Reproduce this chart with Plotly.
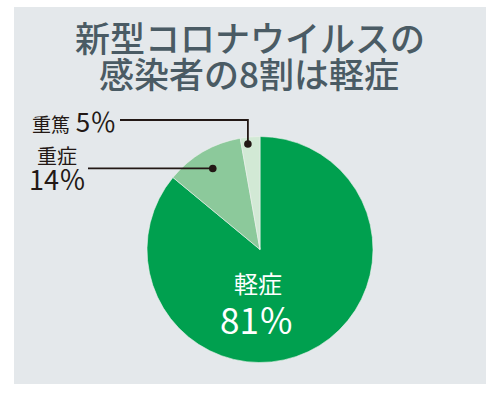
import math
import plotly.graph_objects as go

# ---- data ----
categories = ["軽症", "重症", "重篤"]
shown_percent = [81, 14, 5]            # percentages printed on the chart
slice_share = [86.0, 11.2, 2.8]        # slice sizes as drawn in the picture
slice_colors = ["#00a04f", "#8cc99b", "#d2e9d5"]
title_lines = ["新型コロナウイルスの", "感染者の8割は軽症"]

W, H = 500, 394
FONT = "Noto Sans CJK JP"

def px(x):
    return x / W

def py(y):
    return 1 - y / H

# pie geometry (pixels)
cx, cy, R = 260, 249.5, 113

fig = go.Figure(go.Pie(
    labels=categories,
    values=slice_share,
    sort=False,
    direction="clockwise",
    rotation=0,
    marker=dict(colors=slice_colors, line=dict(color="#eef2ef", width=0.6)),
    textinfo="none",
    hoverinfo="label",
    showlegend=False,
    domain=dict(x=[px(cx - R), px(cx + R)], y=[py(cy + R), py(cy - R)]),
))

shapes = [
    dict(type="rect", xref="paper", yref="paper", layer="below",
         x0=px(14), x1=px(486), y0=py(384), y1=py(7),
         fillcolor="#e4e8eb", line=dict(width=0)),
]

# slice mid-angles (degrees clockwise from 12 o'clock)
total = sum(slice_share)
mids = []
acc = 0
for v in slice_share:
    mids.append((acc + v / 2) / total * 360)
    acc += v

def on_pie(angle_deg, frac):
    a = math.radians(angle_deg)
    return cx + frac * R * math.sin(a), cy - frac * R * math.cos(a)

line_col = "#231815"
# 重篤 leader: horizontal then down to the dot
dx1, dy1 = on_pie(mids[2] - 1.5, 0.94)
shapes.append(dict(type="path", xref="paper", yref="paper", layer="above",
                   path=f"M {px(120)},{py(120)} L {px(dx1)},{py(120)} L {px(dx1)},{py(dy1)}",
                   line=dict(color=line_col, width=1.8)))
# 重症 leader: horizontal to the dot
dx2, dy2 = on_pie(mids[1], 0.83)
shapes.append(dict(type="line", xref="paper", yref="paper", layer="above",
                   x0=px(88), y0=py(dy2), x1=px(dx2), y1=py(dy2),
                   line=dict(color=line_col, width=1.8)))
for (dx, dy) in [(dx1, dy1), (dx2, dy2)]:
    r = 3.8
    shapes.append(dict(type="circle", xref="paper", yref="paper", layer="above",
                       x0=px(dx - r), x1=px(dx + r), y0=py(dy + r), y1=py(dy - r),
                       fillcolor=line_col, line=dict(width=0)))

title_col = "#4a5b64"
annotations = [
    dict(text=title_lines[0], x=px(250), y=py(36), font=dict(size=35, color=title_col, weight=500)),
    dict(text=title_lines[1], x=px(249), y=py(73), font=dict(size=35, color=title_col, weight=500)),
    dict(text=f"<span style='font-size:19px'>{categories[2]}</span> {shown_percent[2]}％",
         x=px(118), y=py(121), xanchor="right", font=dict(size=26, color=line_col)),
    dict(text=categories[1], x=px(57), y=py(155), font=dict(size=20, color=line_col)),
    dict(text=f"{shown_percent[1]}％", x=px(57), y=py(178), font=dict(size=27, color=line_col)),
    dict(text=categories[0], x=px(258), y=py(282), font=dict(size=24, color="white")),
    dict(text=f"{shown_percent[0]}％", x=px(257), y=py(318), font=dict(size=35, color="white")),
]
for a in annotations:
    a.update(xref="paper", yref="paper", showarrow=False)
    a.setdefault("xanchor", "center")
    a["yanchor"] = "middle"
    a["font"]["family"] = FONT

fig.update_layout(
    width=W, height=H,
    margin=dict(l=0, r=0, t=0, b=0),
    paper_bgcolor="white",
    plot_bgcolor="white",
    shapes=shapes,
    annotations=annotations,
    font=dict(family=FONT),
)

fig.write_html("out.html", config={"displayModeBar": False},
               post_script="document.body.style.margin='0px';")
